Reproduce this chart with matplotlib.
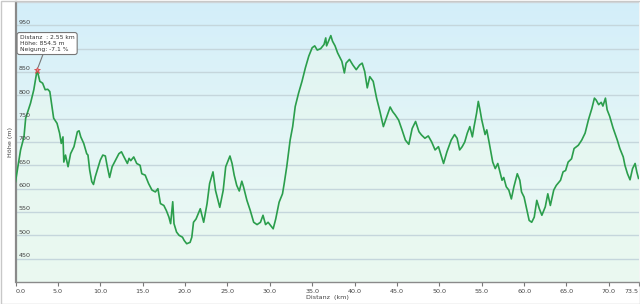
import numpy as np
import matplotlib
matplotlib.use("Agg")
import matplotlib.pyplot as plt
from matplotlib import transforms
from matplotlib.colors import LinearSegmentedColormap

# elevation profile
distanz_km = [
    0.0, 0.6, 1.0, 1.2, 1.77, 2.16, 2.55, 2.87, 3.2, 3.5, 3.8, 4.05, 4.3, 4.5,
    4.9, 5.2, 5.4, 5.6, 5.7, 5.9, 6.2, 6.5, 6.9, 7.3, 7.5, 7.7, 8.05, 8.4,
    8.55, 8.75, 9.0, 9.2, 9.4, 9.7, 10.0, 10.3, 10.6, 10.8, 11.1, 11.4, 11.8,
    12.2, 12.5, 12.8, 13.2, 13.4, 13.6, 13.95, 14.3, 14.7, 14.9, 15.3, 15.7,
    16.1, 16.5, 16.8, 17.1, 17.5, 17.8, 18.1, 18.3, 18.55, 18.7, 19.0, 19.3,
    19.7, 19.9, 20.2, 20.6, 20.8, 21.0, 21.3, 21.8, 22.2, 22.6, 22.9, 23.3,
    23.6, 24.1, 24.5, 24.8, 25.3, 25.55, 25.8, 26.1, 26.4, 26.7, 26.9, 27.3,
    27.7, 28.1, 28.5, 28.9, 29.2, 29.5, 29.8, 30.1, 30.4, 30.7, 31.1, 31.5,
    31.7, 32.0, 32.4, 32.7, 33.0, 33.4, 33.8, 34.2, 34.6, 35.0, 35.3, 35.6,
    36.0, 36.4, 36.6, 36.7, 37.0, 37.2, 37.4, 37.7, 38.0, 38.3, 38.5, 38.8,
    39.0, 39.4, 39.8, 40.2, 40.6, 40.9, 41.2, 41.5, 41.8, 42.2, 42.6, 43.0,
    43.4, 43.8, 44.2, 44.5, 44.8, 45.2, 45.6, 46.0, 46.4, 46.8, 47.2, 47.6,
    47.9, 48.3, 48.7, 49.1, 49.5, 49.9, 50.2, 50.5, 50.9, 51.4, 51.8, 52.1,
    52.4, 52.7, 53.0, 53.3, 53.6, 53.9, 54.1, 54.4, 54.6, 54.8, 55.0, 55.4,
    55.6, 55.9, 56.3, 56.6, 56.9, 57.4, 57.6, 57.9, 58.2, 58.5, 58.8, 59.2,
    59.5, 59.7, 60.0, 60.3, 60.6, 60.9, 61.2, 61.5, 61.8, 62.1, 62.5, 62.8,
    63.1, 63.5, 63.8, 64.3, 64.6, 64.9, 65.2, 65.6, 65.9, 66.4, 66.8, 67.2,
    67.6, 68.0, 68.3, 68.5, 68.8, 69.1, 69.3, 69.6, 69.8, 70.1, 70.5, 71.0,
    71.3, 71.7, 71.9, 72.2, 72.5, 72.8, 73.1, 73.3, 73.5,
]
hoehe_m = [
    615, 683, 711, 751, 783, 812, 854.5, 830, 826, 812, 813, 808, 776, 751,
    740, 719, 697, 711, 657, 672, 647, 675, 690, 722, 724, 711, 697, 675,
    672, 640, 615, 609, 625, 643, 661, 672, 670, 650, 624, 647, 661,
    675, 679, 668, 654, 665, 660, 668, 654, 650, 632, 629, 611,
    597, 593, 600, 568, 564, 553, 539, 525, 572, 525, 507, 500,
    496, 489, 482, 485, 496, 528, 535, 557, 528, 568, 611, 636,
    596, 560, 596, 647, 670, 654, 629, 607, 595, 616, 604, 575,
    553, 528, 523, 528, 543, 523, 528, 521, 514, 535, 571, 589,
    611, 647, 704, 733, 776, 805, 830, 859, 884, 902, 906, 897,
    900, 909, 923, 906, 919, 928, 916, 906, 891, 880, 873, 848,
    869, 877, 865, 855, 865, 869, 851, 816, 840, 830, 794, 765,
    733, 754, 775, 765, 758, 747, 726, 704, 695, 729, 744, 722,
    715, 708, 713, 700, 683, 690, 672, 654, 679, 704, 716, 708,
    683, 690, 700, 719, 733, 711, 733, 762, 787, 769, 748, 716,
    726, 697, 657, 643, 654, 618, 624, 604, 597, 578, 604, 632,
    618, 593, 582, 557, 532, 528, 539, 575, 557, 543, 561, 589,
    564, 597, 607, 618, 636, 639, 657, 664, 686, 693, 704, 719,
    748, 772, 794, 790, 780, 785, 777, 794, 769, 755, 730, 704,
    686, 668, 650, 632, 619, 643, 654, 636, 622,
]
x_ticks = [0, 5, 10, 15, 20, 25, 30, 35, 40, 45, 50, 55, 60, 65, 70, 73.5]
y_ticks = [450, 500, 550, 600, 650, 700, 750, 800, 850, 900, 950]

sel_km = 2.55
sel_hoehe = 854.5
sel_neigung = -7.1

W, H = 640, 304
fig = plt.figure(figsize=(W / 100, H / 100), dpi=100)
fig.patch.set_facecolor("white")
ax = fig.add_axes([15.5 / W, (H - 282) / H, 623 / W, 280 / H])
ax.set_xlim(0, 73.5)
ax.set_ylim(400, 1000)

# background gradient: light blue on top, mint at the bottom
bg = LinearSegmentedColormap.from_list("bg", ["#eefaf3", "#e4f6f6", "#d3eefa"])
grad = np.linspace(0, 1, 256).reshape(-1, 1)
ax.imshow(grad, cmap=bg, origin="lower", aspect="auto",
          extent=[0, 73.5, 400, 1000], zorder=0)

ax.fill_between(distanz_km, hoehe_m, 400, color="#e8f8ee", alpha=0.55,
                lw=0, zorder=1)
for v in y_ticks:
    ax.axhline(v, color="#c5d6dc", lw=1.0, zorder=2)
ax.plot(distanz_km, hoehe_m, color="#2b9e4c", lw=1.2, zorder=3)

# y labels sit inside the plot, just above each grid line
off = transforms.offset_copy(ax.get_yaxis_transform(), fig=fig, x=3, y=3.3,
                             units="dots")
for v in y_ticks:
    ax.text(0, v, str(v), transform=off, ha="left", va="center",
            fontsize=4.6, color="#444444", zorder=4)
ax.set_yticks([])

ax.set_xticks(x_ticks)
ax.set_xticklabels([f"{t:.1f}" for t in x_ticks], fontsize=4.6,
                   color="#444444")
labels = ax.get_xticklabels()
labels[0].set_ha("left")
labels[-1].set_ha("right")
ax.tick_params(axis="x", length=3, width=0.8, color="#777777", pad=2)

for s in ["top", "right"]:
    ax.spines[s].set_visible(False)
ax.spines["left"].set_color("#8a8a8a")
ax.spines["left"].set_linewidth(1.6)
ax.spines["bottom"].set_color("#8a8a8a")
ax.spines["bottom"].set_linewidth(1.0)

ax.set_xlabel("Distanz  (km)", fontsize=4.6, color="#444444", labelpad=1)
ax.set_ylabel("Höhe (m)", fontsize=4.6, color="#444444", labelpad=2)

# selected point with tooltip
ax.plot([sel_km], [sel_hoehe], marker="*", ms=5, color="#f08080",
        mec="#d04040", mew=0.5, zorder=5)
tip = f"Distanz  : {sel_km:.2f} km\nHöhe: {sel_hoehe} m\nNeigung: {sel_neigung} %"
ax.annotate(tip, xy=(sel_km, sel_hoehe), xytext=(0.5, 911),
            fontsize=4.3, color="#333333", va="center", ha="left",
            linespacing=1.2, zorder=6,
            bbox=dict(boxstyle="round,pad=0.45,rounding_size=0.4",
                      fc="white", ec="#777777", lw=0.8),
            arrowprops=dict(arrowstyle="-", color="#777777", lw=0.8,
                            shrinkA=0, shrinkB=2))

# thin frame around the whole picture
fig.add_artist(plt.Rectangle((0.5 / W, 0.5 / H), 1 - 1 / W, 1 - 1 / H,
                             transform=fig.transFigure, fill=False,
                             ec="#c8c8c8", lw=1.0))
ax.axhline(1000, color="#d0d8dc", lw=1.0, zorder=2)

fig.savefig("out.png", dpi=100)
